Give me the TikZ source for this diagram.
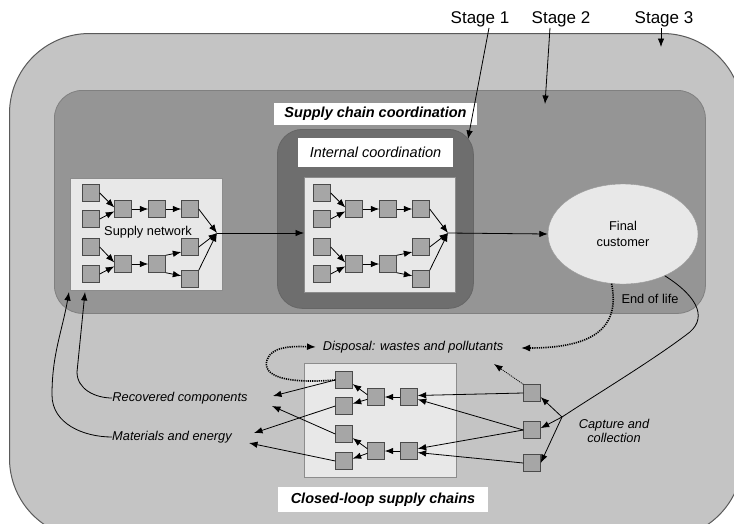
\documentclass[tikz,border=0pt]{standalone}
\usepackage{fontspec}
\setmainfont{Liberation Sans}
\usetikzlibrary{arrows.meta,shapes.geometric,calc}
\definecolor{outerc}{HTML}{C4C4C4}
\definecolor{bordc}{HTML}{5A5A5A}
\definecolor{stwoc}{HTML}{959595}
\definecolor{sonec}{HTML}{6E6E6E}
\definecolor{innerc}{HTML}{E8E8E8}
\definecolor{sqc}{HTML}{A6A6A6}
\definecolor{sqd}{HTML}{4A4A4A}
\tikzset{
  sq/.style={draw=sqd, fill=sqc, line width=0.9pt, minimum size=16.5pt, inner sep=0pt},
  arr/.style={-{Latex[length=8.5pt,width=6.5pt]}, line width=0.8pt},
  thickdot/.style={-{Latex[length=9pt,width=7pt]}, line width=1.6pt, dash pattern=on 1.2pt off 1pt},
  thindot/.style={-{Latex[length=8.5pt,width=6.5pt]}, line width=0.8pt, dash pattern=on 1pt off 1pt},
  panel/.style={draw=black!45, fill=innerc, line width=0.8pt, inner sep=0pt, anchor=north west},
  lab/.style={fill=white, inner sep=0pt, font=\fontsize{14.5}{16}\selectfont\bfseries\itshape},
  itl/.style={font=\fontsize{12.8}{14}\selectfont\itshape, inner sep=0pt},
  upl/.style={font=\fontsize{12.8}{14}\selectfont, inner sep=0pt},
  stagelab/.style={font=\fontsize{17}{19}\selectfont, inner sep=1pt}
}
\newcommand\fwdnet{%
  \node[sq] (a1) at (91,193) {};
  \node[sq] (a2) at (91,219) {};
  \node[sq] (a3) at (91,247) {};
  \node[sq] (a4) at (91,274) {};
  \node[sq] (b1) at (123,209) {};
  \node[sq] (b2) at (123,264) {};
  \node[sq] (c1) at (157,209) {};
  \node[sq] (c2) at (157,264) {};
  \node[sq] (d1) at (190,209) {};
  \node[sq] (d2) at (190,247) {};
  \node[sq] (d3) at (190,279) {};
  \coordinate (m) at (217,233);
  \draw[arr] (a1.east) -- (b1.170);
  \draw[arr] (a2.east) -- (b1.195);
  \draw[arr] (a3.east) -- (b2.170);
  \draw[arr] (a4.east) -- (b2.195);
  \draw[arr] (b1) -- (c1);
  \draw[arr] (c1) -- (d1);
  \draw[arr] (b2) -- (c2);
  \draw[arr] (c2.north east) -- (d2.210);
  \draw[arr] (c2.south east) -- (d3.160);
  \draw[arr] (d1.east) -- (m);
  \draw[arr] (d2.east) -- (m);
  \draw[arr] (d3.north east) -- (m);
}
\begin{document}
\begin{tikzpicture}[x=1pt,y=-1pt]
\useasboundingbox (0,0) rectangle (734,523);
\clip (0,0) rectangle (734,523);
\fill[white] (0,0) rectangle (734,523);

% stage boxes
\node[draw=bordc, line width=1pt, fill=outerc, rounded corners=80pt,
      minimum width=733pt, minimum height=505pt, inner sep=0pt, anchor=north west] (stage3) at (9,33) {};
\node[draw=black!50, line width=0.8pt, fill=stwoc, rounded corners=28pt,
      minimum width=651pt, minimum height=223pt, inner sep=0pt, anchor=north west] (stage2) at (54,90) {};
\node[draw=black!60, line width=0.8pt, fill=sonec, rounded corners=25pt,
      minimum width=196pt, minimum height=179pt, inner sep=0pt, anchor=north west] (stage1) at (277,129) {};

% labels of the stage boxes
\node[lab, minimum width=203pt, minimum height=22pt] (scc) at (375.5,114) {Supply chain coordination};
\node[fill=white, inner sep=0pt, minimum width=155pt, minimum height=29pt,
      font=\fontsize{14.5}{16}\selectfont\itshape] (icl) at (375.5,152.5) {Internal coordination};

% panels
\node[panel, minimum width=152pt, minimum height=112pt] (sn) at (70,178) {};
\node[panel, minimum width=151pt, minimum height=115pt] (ic) at (304,177) {};
\node[panel, minimum width=152pt, minimum height=114pt] (cl) at (304,363) {};

\node[upl] (snl) at (148,232) {Supply network};

\begin{scope}[name prefix=sn-]
  \fwdnet
\end{scope}
\begin{scope}[shift={(231,0)}, name prefix=in-]
  \fwdnet
\end{scope}

% final customer
\node[ellipse, draw=black!40, fill=innerc, minimum width=150pt, minimum height=100pt,
      align=center, font=\fontsize{12.8}{16}\selectfont, inner sep=0pt] (fc) at (623,234) {Final\\customer};
\node[upl] (eol) at (650,299) {End of life};

\draw[arr] (sn-m) -- (ic.west |- sn-m);
\draw[arr] (in-m) -- (fc.west);

% stage labels
\node[stagelab] (s1) at (480,19) {Stage 1};
\node[stagelab] (s2) at (561,19) {Stage 2};
\node[stagelab] (s3) at (664,19) {Stage 3};
\coordinate (s1tip) at (468,139);
\coordinate (s2tip) at (545,104);
\coordinate (s3tip) at (661,47);
\draw[arr] ([xshift=9pt]s1.south) -- (s1tip);
\draw[arr] ([xshift=-11pt]s2.south) -- (s2tip);
\draw[arr] ([xshift=-3pt]s3.south) -- (s3tip);

% closed loop network
\node[sq] (e1) at (344,380) {};
\node[sq] (e2) at (344,406) {};
\node[sq] (e3) at (344,434) {};
\node[sq] (e4) at (344,461) {};
\node[sq] (f1) at (376,397) {};
\node[sq] (f2) at (376,451) {};
\node[sq] (g1) at (409,397) {};
\node[sq] (g2) at (409,451) {};
\node[sq] (h1) at (532,393) {};
\node[sq] (h2) at (532,430) {};
\node[sq] (h3) at (532,463) {};
\coordinate (cp) at (562,417);

\draw[arr] (h1.west) -- (g1.10);
\draw[arr] (h2.west) -- (g1.-15);
\draw[arr] (h2.west) -- (g2.15);
\draw[arr] (h3.west) -- (g2.-10);
\draw[arr] (g1) -- (f1);
\draw[arr] (g2) -- (f2);
\draw[arr] (f1.165) -- (e1.-25);
\draw[arr] (f1.195) -- (e2.15);
\draw[arr] (f2.165) -- (e3.-25);
\draw[arr] (f2.195) -- (e4.15);

% labels of the lower part
\node[lab, minimum width=210pt, minimum height=25pt] (cll) at (383,499.5) {Closed-loop supply chains};
\node[itl] (disp) at (413,347) {Disposal: wastes and pollutants};
\node[itl] (rc) at (180,398) {Recovered components};
\node[itl] (me) at (172,437) {Materials and energy};
\node[itl, align=center] (cap) at (614,431) {Capture and\\collection};

\coordinate (rc1) at (273,396);
\coordinate (rc2) at (272,406);
\coordinate (me1) at (254,433);
\coordinate (me2) at (249,443);
\draw[arr] (e1.west) -- (rc1);
\draw[arr] (e3.west) -- (rc2);
\draw[arr] (e2.west) -- (me1);
\draw[arr] (e4.west) -- (me2);

% return to supply
\coordinate (ret1) at (85,292);
\coordinate (ret2) at (69,292);
\draw[arr] (rc.west) to[out=180,in=-90] (77,372) -- (ret1);
\draw[arr] (me.west) to[out=180,in=-90] (52,395) to[out=90,in=-100] (ret2);

% capture and collection
\draw[line width=0.8pt] (fc.-45) .. controls (700,298) and (708,320) .. (686,335)
      .. controls (650,362) and (600,392) .. (cp);
\draw[arr] (cp) -- (h1.-25);
\draw[arr] (cp) -- (h2.12);
\draw[arr] (cp) -- (h3.east);

% disposal
\coordinate (dispL) at (316,347);
\coordinate (dispR) at (521,348);
\coordinate (dispD) at (494,364);
\draw[thickdot] (e1.west) .. controls (285,384) and (262,376) .. (267,360)
      .. controls (271,347) and (290,346) .. (dispL);
\draw[thickdot] (fc.257) .. controls (621,330) and (590,348) .. (dispR);
\draw[thindot] (h1.north west) -- (dispD);
\end{tikzpicture}
\end{document}
